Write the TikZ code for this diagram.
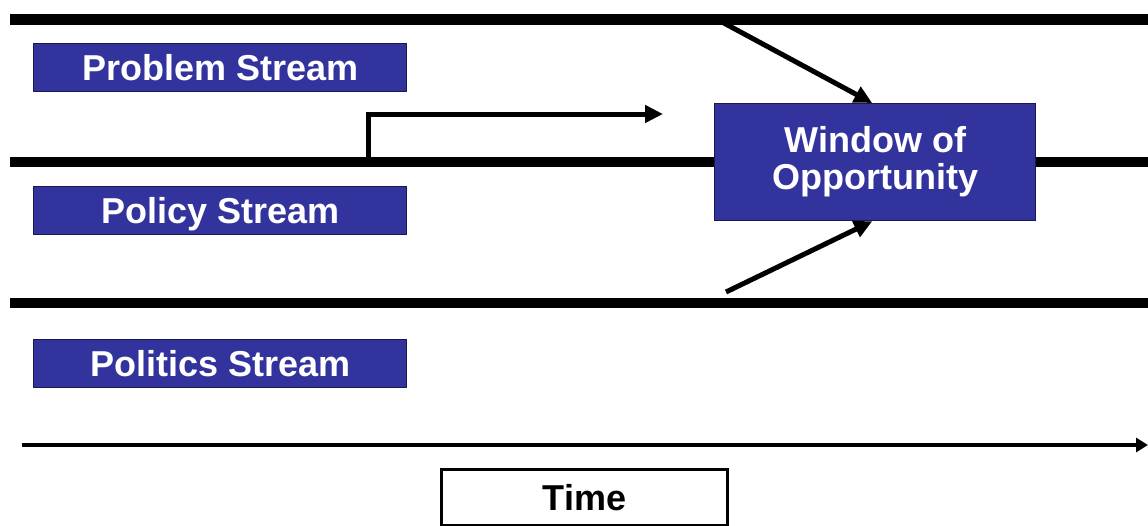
\documentclass[tikz,border=0pt]{standalone}
\usepackage{fontspec}
\setmainfont{Liberation Sans}
\usetikzlibrary{arrows.meta}
\definecolor{boxblue}{RGB}{51,51,158}
\definecolor{boxedge}{RGB}{25,25,80}
\begin{document}
\begin{tikzpicture}[x=1pt,y=-1pt,
  stream/.style={line width=10.5pt},
  streamlabel/.style={draw=boxedge, line width=1.3pt, fill=boxblue, text=white,
    font=\fontsize{36}{34}\selectfont\bfseries, inner sep=0pt, anchor=north west,
    minimum width=373pt, minimum height=48pt, text height=26pt, text depth=0pt},
  conn/.style={line width=5pt, -{Triangle[length=18pt,width=17pt]}}]
\useasboundingbox (0,0) rectangle (1148,525);

% stream lines
\draw[stream] (10,19.5) -- (1148,19.5);
\draw[stream] (10,162) -- (1148,162);
\draw[stream] (10,303) -- (1148,303);

% labels
\node[streamlabel] (prob) at (33,43) {Problem Stream};
\node[streamlabel] (pol) at (33,186) {Policy Stream};
\node[streamlabel] (polit) at (33,339) {Politics Stream};

% window
\node[draw=boxedge, line width=1.3pt, fill=boxblue, text=white, anchor=north west,
  minimum width=321pt, minimum height=117pt, inner sep=0pt, align=center,
  font=\fontsize{36}{37}\selectfont\bfseries] (win) at (714,103) {Window of\\Opportunity};

% elbow arrow
\coordinate (e0) at (368,164);
\coordinate (e1) at (663,114);
\draw[conn] (e0) |- (e1);

% diagonal arrows
\coordinate (d1) at (722,22);
\coordinate (d2) at (726,292);
\draw[conn] (d1) -- ([xshift=-3pt]win.north);
\draw[conn] (d2) -- ([xshift=-3pt]win.south);

% time axis
\coordinate (t0) at (22,445);
\coordinate (t1) at (1148,445);
\draw[line width=4pt, -{Triangle[length=12pt,width=14pt]}] (t0) -- (t1);
\node[draw, line width=3pt, anchor=north west, minimum width=286pt, minimum height=56pt,
  inner sep=0pt, text height=26pt, text depth=0pt,
  font=\fontsize{36}{34}\selectfont\bfseries] (time) at (440,468) {Time};
\end{tikzpicture}
\end{document}
